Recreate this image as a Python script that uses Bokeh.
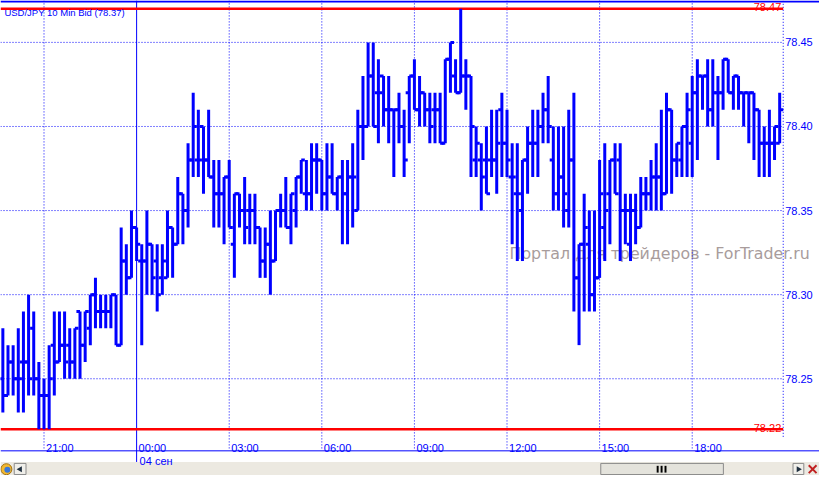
from bokeh.plotting import figure
from bokeh.models import Range1d
from bokeh.core.properties import value
from bokeh.embed import file_html
from bokeh.resources import INLINE
import math

# ---------------- data (USD/JPY, 10-minute bars, bid) ----------------
opens = [78.25, 78.24, 78.26, 78.25, 78.26, 78.26, 78.28, 78.25, 78.24, 78.24,
         78.27, 78.26, 78.27, 78.27, 78.26, 78.29, 78.27, 78.28, 78.30, 78.29,
         78.29, 78.29, 78.30, 78.27, 78.32, 78.31, 78.34, 78.32, 78.32, 78.33,
         78.32, 78.31, 78.31, 78.34, 78.33, 78.36, 78.35, 78.38,
         78.38, 78.40, 78.38, 78.37, 78.36, 78.36, 78.37, 78.33, 78.36, 78.35,
         78.35, 78.35, 78.34, 78.32, 78.33, 78.32, 78.35, 78.35, 78.34, 78.35,
         78.37, 78.36, 78.36, 78.38, 78.38, 78.36, 78.37, 78.36, 78.37, 78.36,
         78.37, 78.35, 78.40, 78.40, 78.43, 78.42, 78.43, 78.41,
         78.41, 78.41, 78.40, 78.42, 78.43, 78.41, 78.42, 78.41, 78.41, 78.41,
         78.39, 78.44, 78.43, 78.42, 78.43, 78.43, 78.38, 78.38, 78.38, 78.38,
         78.38, 78.41, 78.39, 78.37, 78.36, 78.35, 78.38, 78.39, 78.39, 78.40,
         78.41, 78.38, 78.36, 78.37, 78.35, 78.38, 78.31, 78.33,
         78.33, 78.30, 78.31, 78.34, 78.36, 78.38, 78.38, 78.35, 78.33, 78.35,
         78.34, 78.36, 78.36, 78.37, 78.37, 78.36, 78.41, 78.38, 78.38, 78.40,
         78.39, 78.42, 78.43, 78.43, 78.41, 78.42, 78.42, 78.44, 78.42, 78.43,
         78.42, 78.42, 78.42, 78.41, 78.39, 78.39, 78.39, 78.39]
highs = [78.28, 78.27, 78.27, 78.28, 78.29, 78.30, 78.29, 78.26, 78.25, 78.27,
         78.29, 78.29, 78.29, 78.28, 78.28, 78.29, 78.29, 78.30, 78.31, 78.30,
         78.30, 78.30, 78.30, 78.34, 78.33, 78.35, 78.34, 78.33, 78.35, 78.33,
         78.33, 78.33, 78.35, 78.34, 78.37, 78.36, 78.39, 78.42,
         78.41, 78.40, 78.41, 78.38, 78.38, 78.37, 78.38, 78.36, 78.36, 78.37,
         78.36, 78.36, 78.34, 78.34, 78.35, 78.35, 78.36, 78.37, 78.36, 78.37,
         78.38, 78.38, 78.39, 78.39, 78.38, 78.39, 78.39, 78.37, 78.38, 78.38,
         78.39, 78.41, 78.43, 78.45, 78.45, 78.44, 78.43, 78.43,
         78.41, 78.42, 78.41, 78.43, 78.44, 78.43, 78.42, 78.42, 78.42, 78.42,
         78.44, 78.45, 78.44, 78.47, 78.44, 78.43, 78.40, 78.39, 78.40, 78.41,
         78.41, 78.42, 78.41, 78.39, 78.39, 78.38, 78.40, 78.41, 78.41, 78.42,
         78.43, 78.40, 78.40, 78.40, 78.41, 78.42, 78.33, 78.36,
         78.35, 78.35, 78.38, 78.39, 78.38, 78.39, 78.39, 78.36, 78.36, 78.36,
         78.37, 78.37, 78.38, 78.39, 78.41, 78.42, 78.41, 78.39, 78.40, 78.42,
         78.43, 78.44, 78.43, 78.44, 78.44, 78.43, 78.44, 78.44, 78.43, 78.43,
         78.42, 78.42, 78.42, 78.41, 78.40, 78.41, 78.40, 78.42]
lows = [78.23, 78.24, 78.24, 78.23, 78.23, 78.24, 78.24, 78.22, 78.22, 78.22,
        78.24, 78.26, 78.25, 78.25, 78.25, 78.25, 78.26, 78.27, 78.28, 78.28,
        78.28, 78.28, 78.27, 78.27, 78.30, 78.31, 78.32, 78.27, 78.30, 78.30,
        78.29, 78.30, 78.31, 78.31, 78.33, 78.33, 78.34, 78.37,
        78.37, 78.36, 78.37, 78.34, 78.34, 78.33, 78.34, 78.31, 78.34, 78.33,
        78.33, 78.33, 78.31, 78.31, 78.30, 78.32, 78.34, 78.34, 78.33, 78.34,
        78.36, 78.35, 78.35, 78.36, 78.35, 78.35, 78.36, 78.35, 78.33, 78.33,
        78.34, 78.35, 78.38, 78.40, 78.40, 78.39, 78.40, 78.39,
        78.37, 78.39, 78.37, 78.39, 78.41, 78.40, 78.40, 78.39, 78.39, 78.39,
        78.39, 78.42, 78.42, 78.42, 78.41, 78.37, 78.37, 78.35, 78.36, 78.37,
        78.36, 78.37, 78.37, 78.33, 78.32, 78.32, 78.36, 78.37, 78.37, 78.39,
        78.39, 78.35, 78.35, 78.34, 78.34, 78.29, 78.27, 78.29,
        78.29, 78.29, 78.31, 78.32, 78.33, 78.36, 78.32, 78.33, 78.32, 78.33,
        78.34, 78.35, 78.35, 78.35, 78.35, 78.36, 78.36, 78.37, 78.37, 78.37,
        78.37, 78.38, 78.41, 78.40, 78.40, 78.38, 78.41, 78.42, 78.41, 78.41,
        78.40, 78.39, 78.38, 78.37, 78.37, 78.37, 78.38, 78.39]
closes = [78.24, 78.26, 78.25, 78.25, 78.26, 78.25, 78.25, 78.24, 78.24, 78.25,
          78.26, 78.27, 78.26, 78.26, 78.28, 78.27, 78.29, 78.30, 78.29, 78.29,
          78.29, 78.30, 78.27, 78.32, 78.31, 78.34, 78.33, 78.32, 78.33, 78.31,
          78.30, 78.32, 78.34, 78.33, 78.36, 78.35, 78.38, 78.40,
          78.38, 78.38, 78.37, 78.36, 78.36, 78.37, 78.34, 78.36, 78.35, 78.34,
          78.35, 78.34, 78.32, 78.33, 78.32, 78.35, 78.35, 78.34, 78.36, 78.37,
          78.38, 78.36, 78.38, 78.38, 78.36, 78.37, 78.36, 78.37, 78.36, 78.37,
          78.37, 78.40, 78.40, 78.43, 78.40, 78.42, 78.41, 78.41,
          78.41, 78.40, 78.38, 78.43, 78.41, 78.42, 78.41, 78.40, 78.41, 78.39,
          78.44, 78.45, 78.42, 78.43, 78.43, 78.40, 78.39, 78.37, 78.36, 78.38,
          78.39, 78.39, 78.38, 78.37, 78.36, 78.38, 78.39, 78.39, 78.40, 78.41,
          78.40, 78.36, 78.37, 78.36, 78.38, 78.31, 78.33, 78.34,
          78.30, 78.31, 78.36, 78.35, 78.38, 78.36, 78.35, 78.35, 78.35, 78.34,
          78.36, 78.36, 78.37, 78.37, 78.36, 78.41, 78.38, 78.39, 78.40, 78.41,
          78.42, 78.43, 78.43, 78.41, 78.42, 78.42, 78.44, 78.42, 78.43, 78.42,
          78.42, 78.42, 78.41, 78.39, 78.39, 78.39, 78.40, 78.41]

tick_bars = [8, 26, 44, 62, 80, 98, 116, 134]          # bar index of each time tick
tick_labels = ["21:00", "00:00", "03:00", "06:00", "09:00", "12:00", "15:00", "18:00"]
day_bar = 26
day_label = "04 сен"
price_ticks = [78.25, 78.30, 78.35, 78.40, 78.45]
price_labels = ["78.25", "78.30", "78.35", "78.40", "78.45"]
title_text = "USD/JPY 10 Min Bid (78.37)"
watermark = "Портал для трейдеров - ForTrader.ru"

# ---------------- geometry helpers (reference pixel space) ----------------
X0, DX = 2.4, 5.245          # centre of bar 0 and bar pitch
Y45, PPX = 43.3, 0.0005752   # y of 78.45 and price per pixel


def rx(px):
    return (px - X0) / DX


def py(px):
    return 78.45 - (px - Y45) * PPX


BLUE = "#0000FF"
RED = "#FF0000"
FONT = "Liberation Sans"
XR = rx(798)                 # right edge of the price area

n = len(opens)
idx = list(range(n))

p = figure(width=819, height=475, x_range=Range1d(rx(0), rx(835)),
           y_range=Range1d(py(491), py(0)), output_backend="svg",
           toolbar_location=None, x_axis_location=None, y_axis_location=None,
           min_border=0, outline_line_color=None,
           background_fill_color="white", border_fill_color="white")
p.grid.visible = False

# watermark (under everything else)
p.text(x=[rx(519)], y=[py(262)], text=[watermark], text_font=value("DejaVu Sans"),
       text_font_size="15.8px", text_color="#A89C9C", text_baseline="alphabetic",
       text_align="left")

# ---------------- scroll bar strip at the bottom ----------------
p.quad(left=[rx(0)], right=[rx(835)], top=[py(477)], bottom=[py(491)],
       fill_color="#ECE9E1", line_color=None)
# scroll thumb and its grip
p.quad(left=[rx(612)], right=[rx(737)], top=[py(478.5)], bottom=[py(490)],
       fill_color="#E4E3DC", line_color="#8A8A8A", line_width=1)
p.quad(left=[rx(669), rx(673), rx(677)], right=[rx(671), rx(675), rx(679)],
       top=[py(481)] * 3, bottom=[py(488)] * 3, fill_color="black", line_color=None)
# arrow buttons
p.quad(left=[rx(14), rx(808)], right=[rx(26), rx(819)], top=[py(478.5)] * 2,
       bottom=[py(490)] * 2, fill_color="#F0EFEA", line_color="#8A8A8A", line_width=1)
p.scatter(x=[rx(20), rx(813.5)], y=[py(484.5)] * 2, marker="triangle", size=6,
          angle=[math.pi / 2, -math.pi / 2], fill_color="#203040", line_color=None)
# small icons at both ends
p.scatter(x=[rx(6)], y=[py(484.5)], marker="circle", size=11, fill_color="#F2B830",
          line_color="#A07010")
p.scatter(x=[rx(7)], y=[py(485)], marker="circle", size=6, fill_color="#3A78D8",
          line_color=None)
p.scatter(x=[rx(828)], y=[py(484.5)], marker="x", size=11, line_color="#C02020",
          line_width=2)

# dotted price grid and price labels
p.segment(x0=[rx(0)] * len(price_ticks), x1=[XR] * len(price_ticks),
          y0=price_ticks, y1=price_ticks, line_color=BLUE, line_width=1, line_dash="1 2")
p.text(x=[rx(800)] * len(price_ticks), y=price_ticks, text=price_labels,
       text_align="left", text_baseline="middle", text_color=BLUE,
       text_font=value(FONT), text_font_size="11px")

# dotted time grid (the day boundary is a solid line)
vgrid = [t for t in tick_bars if t != day_bar]
p.segment(x0=vgrid, x1=vgrid, y0=[py(463)] * len(vgrid), y1=[py(0)] * len(vgrid),
          line_color=BLUE, line_width=1, line_dash="1 2")
p.segment(x0=[XR], x1=[XR], y0=[py(451)], y1=[py(0)], line_color=BLUE,
          line_width=1, line_dash="1 2")
p.segment(x0=[day_bar], x1=[day_bar], y0=[py(477)], y1=[py(0)], line_color=BLUE,
          line_width=1)

# top border and time axis line
p.segment(x0=[rx(0)], x1=[rx(835)], y0=[py(1)], y1=[py(1)], line_color=BLUE, line_width=2)
p.segment(x0=[rx(0)], x1=[rx(835)], y0=[py(465.5)], y1=[py(465.5)], line_color=BLUE,
          line_width=1)

# high / low of the visible range
hi = max(highs)
lo = min(lows)
p.segment(x0=[rx(0), rx(0)], x1=[XR, XR], y0=[hi, lo], y1=[hi, lo],
          line_color=RED, line_width=2.5)
p.text(x=[rx(796), rx(796)], y=[hi + 1.6 * PPX, lo + 1.6 * PPX],
       text=[f"{hi:.2f}", f"{lo:.2f}"], text_align="right", text_baseline="alphabetic",
       text_color=RED, text_font=value(FONT), text_font_size="11px")

# OHLC bars
w = 0.7
p.segment(x0=idx, y0=lows, x1=idx, y1=highs, line_color=BLUE, line_width=3, line_cap="butt")
p.segment(x0=[i - w for i in idx], y0=opens, x1=idx, y1=opens,
          line_color=BLUE, line_width=3, line_cap="butt")
p.segment(x0=idx, y0=closes, x1=[i + w for i in idx], y1=closes,
          line_color=BLUE, line_width=3, line_cap="butt")

# time labels and date label
p.text(x=tick_bars, y=[py(463)] * len(tick_bars), text=tick_labels, x_offset=2,
       text_align="left", text_baseline="alphabetic", text_color=BLUE,
       text_font=value(FONT), text_font_size="11px")
p.text(x=[day_bar], y=[py(475.5)], text=[day_label], x_offset=3, text_align="left",
       text_baseline="alphabetic", text_color=BLUE, text_font=value(FONT),
       text_font_size="11px")

# title
p.text(x=[rx(4)], y=[py(12)], text=[title_text], text_align="left",
       text_baseline="alphabetic", text_color=BLUE, text_font=value(FONT),
       text_font_size="9.5px")

open("out.html", "w").write(file_html(p, INLINE))
